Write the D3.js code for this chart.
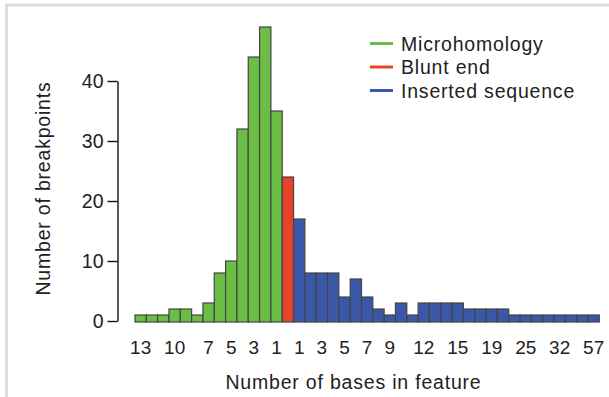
<!DOCTYPE html>
<html>
<head>
<meta charset="utf-8">
<script src="https://cdn.jsdelivr.net/npm/d3@7"></script>
<style>
  body { margin: 0; background: #fff; }
  svg text { font-family: "Liberation Sans", Arial, sans-serif; fill: #222; }
</style>
</head>
<body>
<figure id="chart" style="margin:0"></figure>
<script>
// bars run from 13 bp of microhomology down to 1, then blunt, then inserted 1..57
const microLengths = [13, 12, 11, 10, 9, 8, 7, 6, 5, 4, 3, 2, 1];
const microCounts = [1, 1, 1, 2, 2, 1, 3, 8, 10, 32, 44, 49, 35];
const bluntCounts = [24];
const insertLengths = [1, 2, 3, 4, 5, 6, 7, 8, 9, 10, 11, 12, 13, 14, 15, 16, 18, 19, 21, 23, 25, 27, 30, 32, 38, 44, 57];
const insertCounts = [17, 8, 8, 8, 4, 7, 4, 2, 1, 3, 1, 3, 3, 3, 3, 2, 2, 2, 2, 1, 1, 1, 1, 1, 1, 1, 1];
const microTicks = [13, 10, 7, 5, 3, 1];
const insertTicks = [1, 3, 5, 7, 9, 12, 15, 19, 25, 32, 57];
const yTicks = [0, 10, 20, 30, 40];
const legendLabels = ['Microhomology', 'Blunt end', 'Inserted sequence'];

const colors = { micro: '#6cbd45', blunt: '#e8432a', insert: '#3b57a7' };

const width = 609;
const height = 397;

const bars = [];
microLengths.forEach((len, i) => bars.push({ key: 'm' + len, label: len, type: 'micro', n: microCounts[i] }));
bluntCounts.forEach((n) => bars.push({ key: 'blunt', label: '', type: 'blunt', n: n }));
insertLengths.forEach((len, i) => bars.push({ key: 'i' + len, label: len, type: 'insert', n: insertCounts[i] }));

const svg = d3.select('figure#chart')
  .append('svg')
  .attr('width', width)
  .attr('height', height);

// light grey frame at top and left
svg.append('line').attr('x1', 5).attr('x2', width).attr('y1', 5).attr('y2', 5)
  .attr('stroke', '#dcdcdc').attr('stroke-width', 3);
svg.append('line').attr('x1', 6.5).attr('x2', 6.5).attr('y1', 5).attr('y2', height)
  .attr('stroke', '#dcdcdc').attr('stroke-width', 3);

const x = d3.scaleBand()
  .domain(bars.map(d => d.key))
  .range([135, 599.3])
  .padding(0);

const y = d3.scaleLinear()
  .domain([0, 40])
  .range([321, 81]);

svg.selectAll('rect.bar')
  .data(bars)
  .enter()
  .append('rect')
  .attr('class', 'bar')
  .attr('x', d => x(d.key))
  .attr('y', d => y(d.n))
  .attr('width', x.bandwidth())
  .attr('height', d => y(0) - y(d.n) + 1)
  .attr('fill', d => colors[d.type])
  .attr('stroke', '#444')
  .attr('stroke-width', 1.2);

// y axis
const yAxis = svg.append('g')
  .attr('transform', 'translate(117.5,0)')
  .call(d3.axisLeft(y).tickValues(yTicks).tickSize(10).tickSizeOuter(0).tickPadding(4));
yAxis.select('.domain').attr('stroke', '#111').attr('stroke-width', 1.4);
yAxis.selectAll('.tick line').attr('stroke', '#111').attr('stroke-width', 1.4);
yAxis.selectAll('text').style('font-size', '19.5px').attr('fill', '#222');

// x axis: labels only
const tickKeys = microTicks.map(d => 'm' + d).concat(insertTicks.map(d => 'i' + d));
const xAxis = svg.append('g')
  .attr('transform', 'translate(0,323)')
  .call(d3.axisBottom(x).tickValues(tickKeys).tickSize(0).tickPadding(18)
    .tickFormat(k => bars.find(b => b.key === k).label));
xAxis.select('.domain').remove();
xAxis.selectAll('text').style('font-size', '19px').attr('fill', '#222');

// axis titles
svg.append('text')
  .attr('x', 353.5)
  .attr('y', 389)
  .attr('text-anchor', 'middle')
  .style('font-size', '19.5px')
  .style('letter-spacing', '0.8px')
  .text('Number of bases in feature');

svg.append('text')
  .attr('transform', 'translate(50,188.5) rotate(-90)')
  .attr('text-anchor', 'middle')
  .style('font-size', '19.5px')
  .style('letter-spacing', '0.8px')
  .text('Number of breakpoints');

// legend
const legend = svg.append('g').attr('transform', 'translate(370,43.5)');
const legendColors = [colors.micro, colors.blunt, colors.insert];
legendLabels.forEach((lab, i) => {
  const row = legend.append('g').attr('transform', 'translate(0,' + (i * 23.5) + ')');
  row.append('line').attr('x1', 0).attr('x2', 23).attr('y1', 0).attr('y2', 0)
    .attr('stroke', legendColors[i]).attr('stroke-width', 3);
  row.append('text')
    .attr('x', 31)
    .attr('y', 7)
    .style('font-size', '19.5px')
    .style('letter-spacing', '0.8px')
    .text(lab);
});
</script>
</body>
</html>
